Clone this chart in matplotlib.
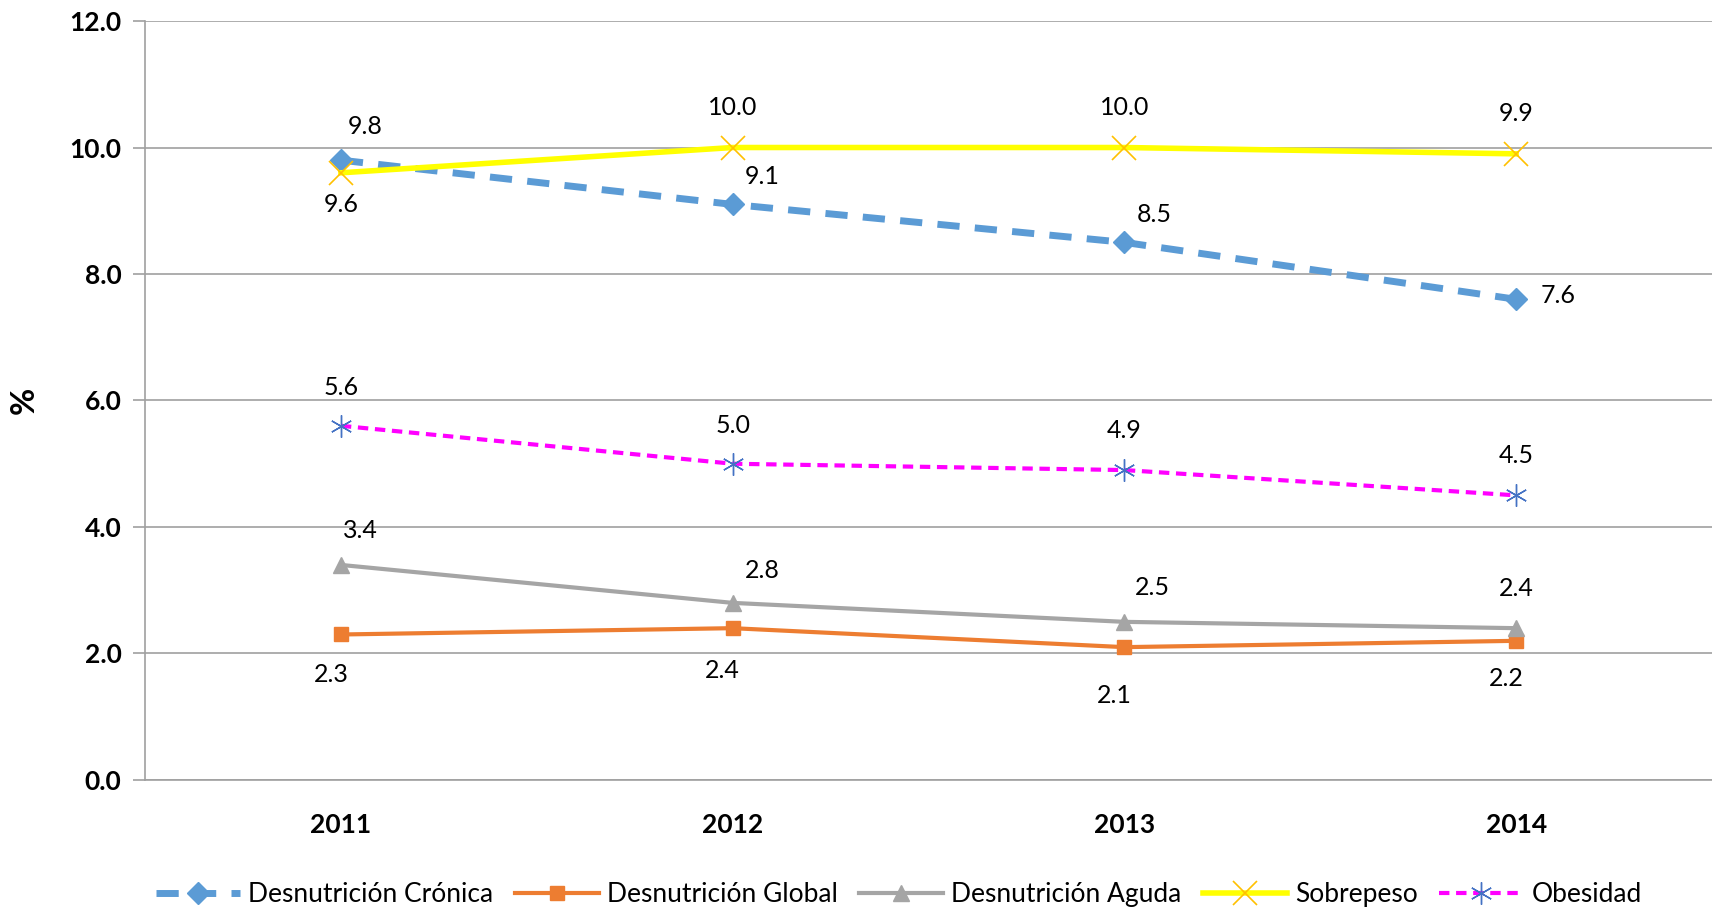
import matplotlib
matplotlib.use("Agg")
import matplotlib.pyplot as plt

years = ["2011", "2012", "2013", "2014"]
cronica = [9.8, 9.1, 8.5, 7.6]
global_ = [2.3, 2.4, 2.1, 2.2]
aguda = [3.4, 2.8, 2.5, 2.4]
sobrepeso = [9.6, 10.0, 10.0, 9.9]
obesidad = [5.6, 5.0, 4.9, 4.5]
yticks = [0, 2, 4, 6, 8, 10, 12]

plt.rcParams['font.family'] = ['Lato', 'DejaVu Sans']

fig = plt.figure(figsize=(17.12, 9.10), dpi=100)
ax = fig.add_axes([0.0847, 0.1429, 0.9153, 0.834])
x = list(range(len(years)))

ax.plot(x, cronica, color='#5B9BD5', lw=5, ls=(0, (3.2, 2.2)), marker='D', ms=11,
        mfc='#5B9BD5', mec='#5B9BD5', label='Desnutrición Crónica', zorder=3)
ax.plot(x, global_, color='#ED7D31', lw=3, marker='s', ms=10,
        mfc='#ED7D31', mec='#ED7D31', label='Desnutrición Global', zorder=3)
ax.plot(x, aguda, color='#A5A5A5', lw=3, marker='^', ms=11,
        mfc='#A5A5A5', mec='#A5A5A5', label='Desnutrición Aguda', zorder=3)
ax.plot(x, sobrepeso, color='#FFFF00', lw=4, marker='x', ms=17, mew=1.2,
        mec='#FFC000', label='Sobrepeso', zorder=3)
ax.plot(x, obesidad, color='#FF00FF', lw=3, ls=(0, (2.5, 1.6)), marker=(6, 2, 0), ms=16, mew=1,
        mec='#4472C4', label='Obesidad', zorder=3)

fs = 18
def lab(xs, ys, dx, dy):
    for xi, yi, ddx, ddy in zip(x, ys, dx, dy):
        ax.annotate(f"{yi:.1f}", (xi, yi), xytext=(ddx, ddy), textcoords='offset pixels',
                    ha='center', va='center', fontsize=fs, color='#000000')

lab(x, cronica, [24, 30, 30, 42], [34, 28, 28, 4])
lab(x, global_, [-10, -10, -10, -10], [-40, -42, -48, -38])
lab(x, aguda, [20, 30, 28, 0], [34, 32, 34, 40])
lab(x, sobrepeso, [0, 0, 0, 0], [-32, 40, 40, 40])
lab(x, obesidad, [0, 0, 0, 0], [38, 38, 40, 40])

ax.set_xlim(-0.5, 3.5)
ax.set_ylim(0, 12)
ax.set_yticks(yticks)
ax.set_yticklabels([f"{v:.1f}" for v in yticks], fontsize=19, fontweight='bold')
ax.set_xticks(x)
ax.set_xticklabels(years, fontsize=19, fontweight='bold')
ax.tick_params(axis='y', length=9, color='#A0A0A0', width=1.2, pad=8)
ax.tick_params(axis='x', length=0, pad=24)
ax.yaxis.grid(True, color='#A0A0A0', lw=1.2)
ax.set_axisbelow(True)
for s in ['top', 'right']:
    ax.spines[s].set_visible(False)
ax.spines['left'].set_color('#A0A0A0')
ax.spines['bottom'].set_color('#A0A0A0')
ax.spines['left'].set_linewidth(1.2)
ax.spines['bottom'].set_linewidth(1.2)
ax.set_ylabel('%', fontsize=24, fontweight='bold', labelpad=22)

fig.legend(loc='center', bbox_to_anchor=(0.525, 0.017), ncol=5, frameon=False,
           fontsize=19, handlelength=3.2, handletextpad=0.3, columnspacing=0.8)

fig.savefig('out.png', dpi=100)
